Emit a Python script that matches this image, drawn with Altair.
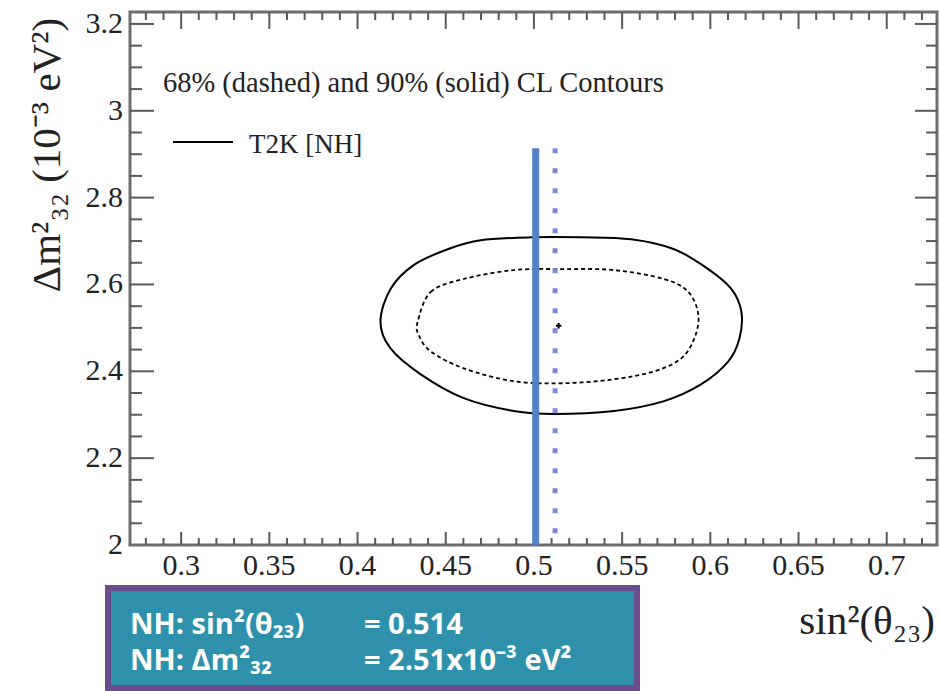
import altair as alt
import pandas as pd

# ---------------- data ----------------
X_DOMAIN = [0.271, 0.7285]
Y_DOMAIN = [2.0, 3.2275]
X_LABELS = [0.3, 0.35, 0.4, 0.45, 0.5, 0.55, 0.6, 0.65, 0.7]
Y_LABELS = [2.0, 2.2, 2.4, 2.6, 2.8, 3.0, 3.2]
X_MINOR = [round(0.28 + 0.01 * i, 2) for i in range(45) if round((0.28 + 0.01 * i) * 100) % 5 != 0]
Y_MINOR = [round(2.0 + 0.05 * i, 2) for i in range(1, 24) if i % 4 != 0]

# 90% CL contour (solid)
CL90_X = [0.4130, 0.4187, 0.4318, 0.4511, 0.4699, 0.4983, 0.5267, 0.5551, 0.5795, 0.5988, 0.6119,
          0.6176, 0.6165, 0.6102, 0.5949, 0.5738, 0.5454, 0.5113, 0.4886, 0.4602, 0.4358, 0.4187]
CL90_Y = [2.5143, 2.5897, 2.6446, 2.6811, 2.7017, 2.7086, 2.7086, 2.7040, 2.6811, 2.6354, 2.5897,
          2.5371, 2.4754, 2.4229, 2.3703, 2.3314, 2.3086, 2.3017, 2.3086, 2.3383, 2.3931, 2.4526]
# 68% CL contour (dashed)
CL68_X = [0.4341, 0.4415, 0.4602, 0.4886, 0.5170, 0.5454, 0.5738, 0.5875, 0.5932, 0.5909, 0.5835,
          0.5682, 0.5454, 0.5170, 0.4886, 0.4602, 0.4415, 0.4346]
CL68_Y = [2.5143, 2.5829, 2.6126, 2.6331, 2.6354, 2.6331, 2.6126, 2.5829, 2.5303, 2.4754, 2.4297,
          2.4000, 2.3817, 2.3726, 2.3771, 2.4069, 2.4457, 2.4846]
BEST_X = [0.514]
BEST_Y = [2.505]
BAND_SOLID_X = [0.501]
BAND_DOTTED_X = [0.512]
BAND_TOP = [2.914]
BAND_BOTTOM = [2.0]

TITLE_TEXT = ["68% (dashed) and 90% (solid) CL Contours"]
LEGEND_TEXT = ["T2K [NH]"]
Y_TITLE = ["Δm²₃₂ (10⁻³ eV²)"]
X_TITLE = ["sin²(θ₂₃)"]
BOX_LEFT = ["NH: sin²(θ₂₃)", "NH: Δm²₃₂"]
BOX_RIGHT = ["= 0.514", "= 2.51x10⁻³ eV²"]

# ---------------- layout ----------------
W, H = 807, 533
SERIF = "Liberation Serif"
TICK_COLOR = "#5a5a5a"
INK = "#222222"

xs = alt.Scale(domain=X_DOMAIN, nice=False, zero=False)
ys = alt.Scale(domain=Y_DOMAIN, nice=False, zero=False)


def X(field):
    return alt.X(field, scale=xs, axis=None)


def Y(field):
    return alt.Y(field, scale=ys, axis=None)


cl90 = pd.DataFrame({"x": CL90_X, "y": CL90_Y, "i": list(range(len(CL90_X)))})
cl68 = pd.DataFrame({"x": CL68_X, "y": CL68_Y, "i": list(range(len(CL68_X)))})

solid = alt.Chart(cl90).mark_line(interpolate="cardinal-closed", color="black", strokeWidth=2).encode(
    x=X("x:Q"), y=Y("y:Q"), order="i:Q")
dashed = alt.Chart(cl68).mark_line(interpolate="cardinal-closed", color="black", strokeWidth=1.8,
                                   strokeDash=[4, 3]).encode(
    x=X("x:Q"), y=Y("y:Q"), order="i:Q")

band_solid = alt.Chart(pd.DataFrame({"x": BAND_SOLID_X, "y": BAND_TOP, "y2": BAND_BOTTOM})).mark_rule(
    color="#5581c9", strokeWidth=7, strokeCap="butt").encode(
    x=X("x:Q"), y=Y("y:Q"), y2="y2:Q")
band_dotted = alt.Chart(pd.DataFrame({"x": BAND_DOTTED_X, "y": BAND_TOP, "y2": BAND_BOTTOM})).mark_rule(
    color="#7c89d4", strokeWidth=5, strokeDash=[5, 15], strokeCap="butt").encode(
    x=X("x:Q"), y=Y("y:Q"), y2="y2:Q")
best = alt.Chart(pd.DataFrame({"x": BEST_X, "y": BEST_Y})).mark_point(
    shape="cross", filled=True, color="black", size=30, opacity=1).encode(
    x=X("x:Q"), y=Y("y:Q"))


def xticks(values, y0, y1):
    return alt.Chart(pd.DataFrame({"v": values})).mark_rule(color=TICK_COLOR, strokeWidth=2).encode(
        x=X("v:Q"), y=alt.value(y0), y2=alt.value(y1))


def yticks(values, x0, x1):
    return alt.Chart(pd.DataFrame({"v": values})).mark_rule(color=TICK_COLOR, strokeWidth=2).encode(
        y=Y("v:Q"), x=alt.value(x0), x2=alt.value(x1))


ticks = [
    xticks(X_LABELS, H, H - 13), xticks(X_MINOR, H, H - 7),
    xticks(X_LABELS, 0, 17), xticks(X_MINOR, 0, 8),
    yticks(Y_LABELS[1:], 0, 24), yticks(Y_MINOR, 0, 12),
    yticks(Y_LABELS[1:], W, W - 22), yticks(Y_MINOR, W, W - 11),
]

# tick labels as text marks placed through the scales
x_tick_labels = alt.Chart(pd.DataFrame({"v": X_LABELS})).mark_text(
    font=SERIF, fontSize=30, color=INK, align="center", baseline="middle").encode(
    x=X("v:Q"), y=alt.value(H + 21), text=alt.Text("v:Q", format="~g"))
y_tick_labels = alt.Chart(pd.DataFrame({"v": Y_LABELS})).mark_text(
    font=SERIF, fontSize=30, color=INK, align="right", baseline="middle").encode(
    y=Y("v:Q"), x=alt.value(-7), text=alt.Text("v:Q", format="~g"))


def label(text, x, y, **kw):
    return alt.Chart(pd.DataFrame({"t": [text]})).mark_text(**kw).encode(
        x=alt.value(x), y=alt.value(y), text="t:N")


cl_text = label(TITLE_TEXT[0], 33, 71, font=SERIF, fontSize=28.5, align="left", baseline="middle", color=INK)
legend_line = alt.Chart(pd.DataFrame({"a": [0]})).mark_rule(color="black", strokeWidth=2).encode(
    x=alt.value(43), x2=alt.value(103), y=alt.value(130))
legend_text = label(LEGEND_TEXT[0], 119, 133, font=SERIF, fontSize=27, align="left", baseline="middle",
                    color=INK)
y_title = label(Y_TITLE[0], -82, 143, font=SERIF, fontSize=41, angle=270, align="center",
                baseline="middle", color=INK)
x_title = label(X_TITLE[0], 805, 622, font=SERIF, fontSize=41, align="right", baseline="alphabetic",
                color=INK)

box = alt.Chart(pd.DataFrame({"a": [0]})).mark_rect(fill="#2f90ab", stroke="#6a4c8f", strokeWidth=6).encode(
    x=alt.value(-22), x2=alt.value(507), y=alt.value(576), y2=alt.value(676))

BOX_FONT = dict(font="Open Sans", fontWeight="bold", fontSize=29, color="white", align="left",
                baseline="middle")
box_texts = [
    label(BOX_LEFT[0], 0, 613, **BOX_FONT),
    label(BOX_LEFT[1], 0, 649, **BOX_FONT),
    label(BOX_RIGHT[0], 234, 613, **BOX_FONT),
    label(BOX_RIGHT[1], 234, 649, **BOX_FONT),
]

chart = alt.layer(
    solid, dashed, *ticks, band_solid, band_dotted, best, x_tick_labels, y_tick_labels,
    cl_text, legend_line, legend_text, y_title, x_title, box, *box_texts,
).properties(
    width=W, height=H,
    autosize=alt.AutoSizeParams(type="none"),
    padding={"left": 130, "top": 12, "right": 3, "bottom": 146},
    background="white",
).configure_view(
    stroke="#6e6e6e", strokeWidth=3
)

chart.save("out.html", embed_options={"renderer": "svg", "actions": False})
